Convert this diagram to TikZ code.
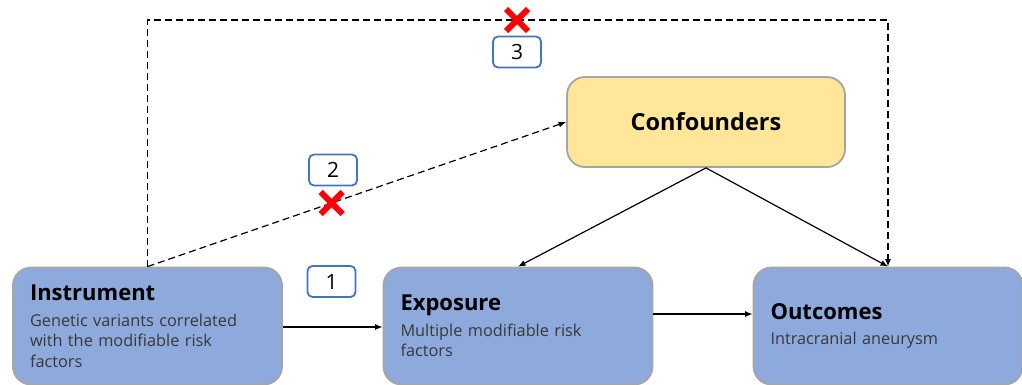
\documentclass[tikz,border=0pt]{standalone}
\usepackage{fontspec}
\setmainfont{Open Sans}
\usepackage{xcolor}
\usetikzlibrary{arrows.meta,shapes.misc}
\definecolor{boxblue}{HTML}{8EA9DB}
\definecolor{boxyellow}{HTML}{FFE699}
\definecolor{rimgray}{HTML}{A5A5A5}
\definecolor{tagblue}{HTML}{4472C4}
\definecolor{bodygray}{HTML}{383838}
\newcommand{\boxtitle}[1]{{\fontsize{22}{26}\selectfont\bfseries\color{black}#1}\\[5pt]}

\begin{document}
\begin{tikzpicture}[x=1pt,y=-1pt,
  bigbox/.style={rounded corners=18pt,draw=rimgray,fill=boxblue,line width=1.8pt,
    align=left,text width=235pt,inner xsep=17pt,minimum height=117pt,
    font=\fontsize{16.3}{20.5}\selectfont,text=bodygray},
  tag/.style={draw=tagblue,fill=white,line width=1.8pt,rounded corners=5pt,
    minimum width=48pt,minimum height=31pt,font=\fontsize{21}{22}\selectfont},
  xmark/.style={solid,cross out,draw=red,line width=6pt,minimum size=16pt,inner sep=0pt},
  arr/.style={-{Latex[length=7.5pt,width=6pt]},line width=1.2pt},
  dasharr/.style={arr,dash pattern=on 7pt off 4pt}]
\useasboundingbox (0,0) rectangle (1022,384);

\node[bigbox] (instr) at (147.5,326) {\boxtitle{Instrument}Genetic variants correlated\\with the modifiable risk\\factors};
\node[bigbox] (expo) at (518,326) {\boxtitle{Exposure}Multiple modifiable risk\\factors};
\node[bigbox] (outc) at (888,326) {\boxtitle{Outcomes}Intracranial aneurysm};
\node[rounded corners=18pt,draw=rimgray,fill=boxyellow,line width=1.8pt,
  minimum width=278pt,minimum height=90pt,font=\fontsize{23.5}{26}\selectfont\bfseries]
  (conf) at (706,122) {Confounders};

\coordinate (top) at (517,20);

% paths
\draw[arr] ([yshift=-1pt]instr.east) -- ([yshift=-1pt]expo.west);
\draw[arr] ([yshift=12pt]expo.east) -- ([yshift=12pt]outc.west);
\draw[arr] (conf.south) -- (expo.north);
\draw[arr] (conf.south) -- (outc.north);
\draw[dasharr] (instr.north) -- (conf.west) node[xmark,pos=0.44] (x2) {};
\draw[dasharr] (instr.north) |- (top) -| (outc.north);
\node[xmark] (x3) at (top) {};

% numbers
\node[tag] (n1) at (331.5,281.5) {1};
\node[tag] (n2) at (333,170) {2};
\node[tag] (n3) at (517,52) {3};
\end{tikzpicture}
\end{document}
